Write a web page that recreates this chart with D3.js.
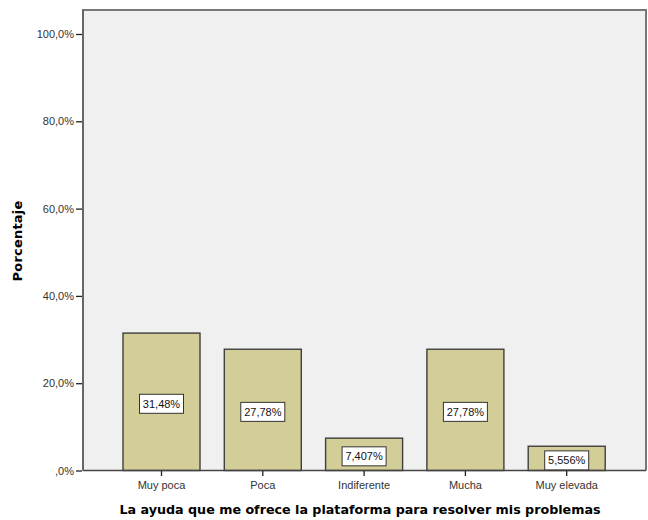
<!DOCTYPE html>
<html><head><meta charset="utf-8">
<script src="https://cdn.jsdelivr.net/npm/d3@7"></script>
<style>body{margin:0;background:#fff}svg{display:block}</style>
</head><body>
<script>
const categories = ["Muy poca","Poca","Indiferente","Mucha","Muy elevada"];
const values = [31.48, 27.78, 7.407, 27.78, 5.556];
const valueLabels = ["31,48%","27,78%","7,407%","27,78%","5,556%"];
const yTicks = [0,20,40,60,80,100];
const yTickLabels = [",0%","20,0%","40,0%","60,0%","80,0%","100,0%"];
const xTitle = "La ayuda que me ofrece la plataforma para resolver mis problemas";
const yTitle = "Porcentaje";

const W=648,H=520;
const L=83,R=646,T=10,B=470.5;
const svg=d3.select("body").append("svg").attr("width",W).attr("height",H);

const y=d3.scaleLinear().domain([0,100]).range([B,34]);

svg.append("rect").attr("x",L).attr("y",T).attr("width",R-L).attr("height",B-T)
  .attr("fill","#f0f0f0").attr("stroke","none");

const bw=77, step=101.3, start=123;
const xs=d3.scaleBand().domain(categories).range([start-(step-bw)/2, start-(step-bw)/2+step*5]).paddingInner((step-bw)/step).paddingOuter((step-bw)/step/2);

svg.selectAll("rect.bar").data(values).join("rect").attr("class","bar")
  .attr("x",(d,i)=>xs(categories[i])).attr("width",xs.bandwidth())
  .attr("y",d=>y(d)).attr("height",d=>B-y(d))
  .attr("fill","#d3ce97").attr("stroke","#3f3f3f").attr("stroke-width",1.4);

svg.append("path").attr("d",`M${L},${B}V${T}H${R}V${B}`).attr("fill","none").attr("stroke","#777").attr("stroke-width",2);
svg.append("line").attr("x1",L).attr("x2",R).attr("y1",B).attr("y2",B).attr("stroke","#444").attr("stroke-width",1.5);
svg.append("line").attr("x1",L).attr("x2",L).attr("y1",T).attr("y2",B).attr("stroke","#666").attr("stroke-width",2);

const yAxis=d3.axisLeft(y).tickValues(yTicks).tickFormat((d,i)=>yTickLabels[i]).tickSize(6).tickPadding(2);
const ga=svg.append("g").attr("transform",`translate(${L-1},0)`).call(yAxis);
ga.select(".domain").remove();
ga.selectAll(".tick line").attr("stroke","#222").attr("stroke-width",1.3);
ga.selectAll("text").attr("font-family","Liberation Sans, Arial, sans-serif").attr("font-size",11).attr("fill","#333");

const xAxis=d3.axisBottom(xs).tickSize(5).tickPadding(5);
const gx=svg.append("g").attr("transform",`translate(0,${B+0.5})`).call(xAxis);
gx.select(".domain").remove();
gx.selectAll(".tick line").attr("stroke","#222").attr("stroke-width",1.3);
gx.selectAll("text").attr("font-family","Liberation Sans, Arial, sans-serif").attr("font-size",11).attr("fill","#333");

const lg=svg.selectAll("g.vl").data(values).join("g").attr("class","vl")
  .attr("transform",(d,i)=>`translate(${xs(categories[i])+xs.bandwidth()/2},${(y(d)+B)/2+2})`);
lg.append("rect").attr("x",-22).attr("y",-9.5).attr("width",44).attr("height",19)
  .attr("fill","#fff").attr("stroke","#333").attr("stroke-width",1);
lg.append("text").text((d,i)=>valueLabels[i]).attr("text-anchor","middle").attr("dy","0.35em")
  .attr("font-family","Liberation Sans, Arial, sans-serif").attr("font-size",11).attr("fill","#111");

svg.append("text").attr("x",360).attr("y",514).attr("text-anchor","middle")
  .attr("font-family","DejaVu Sans, Verdana, sans-serif").attr("font-weight","bold").attr("font-size",12.7)
  .attr("fill","#000").text(xTitle);
svg.append("text").attr("transform",`translate(22,241) rotate(-90)`).attr("text-anchor","middle")
  .attr("font-family","DejaVu Sans, Verdana, sans-serif").attr("font-weight","bold").attr("font-size",13)
  .attr("letter-spacing",0.2)
  .attr("fill","#000").text(yTitle);
</script>
</body></html>
